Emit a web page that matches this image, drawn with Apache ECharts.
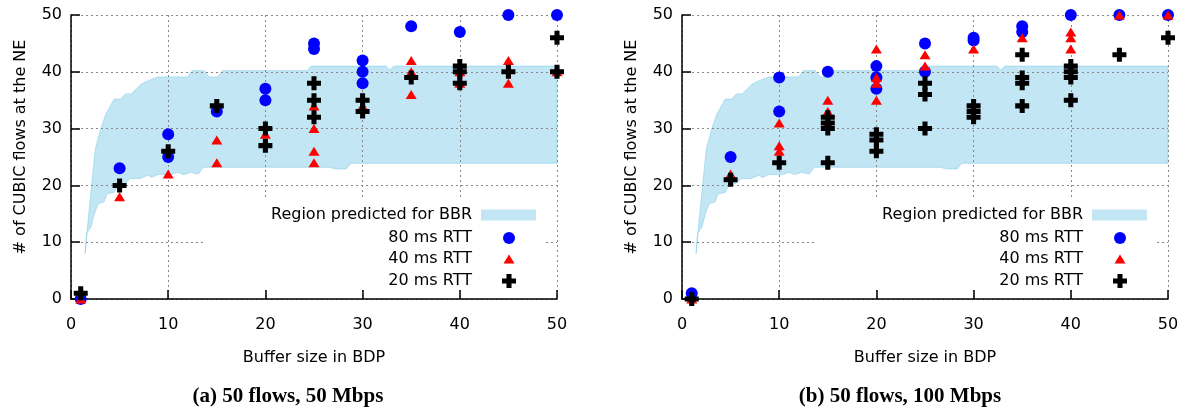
<!DOCTYPE html>
<html>
<head>
<meta charset="utf-8">
<script src="https://cdn.jsdelivr.net/npm/echarts@6/dist/echarts.min.js"></script>
<style>
  html, body { margin: 0; padding: 0; background: #fff; }
  #chart { width: 1187px; height: 414px; }
</style>
</head>
<body>
<div id="chart"></div>
<script>
// ---- data ----
const xTicks = [0, 10, 20, 30, 40, 50]
const yTicks = [0, 10, 20, 30, 40, 50]
const captions = ['(a) 50 flows, 50 Mbps', '(b) 50 flows, 100 Mbps']
const legendNames = ['Region predicted for BBR', '80 ms RTT', '40 ms RTT', '20 ms RTT']

// predicted region (same shape in both panels)
const bandUpper = [[1.45, 8], [1.7, 12.7], [1.9, 16.2], [2.1, 19.7], [2.35, 23.8], [2.5, 26.4], [3.1, 30.2],
  [3.6, 32.6], [4.45, 35.2], [5.1, 35.2], [5.6, 36.1], [6.2, 36.1], [7.2, 37.8], [7.9, 38.4], [8.9, 39.1],
  [12, 39.1], [12.5, 40.2], [13.7, 40.2], [14.2, 39.1], [15.1, 39.1], [15.6, 40.2], [24.3, 40.2],
  [24.7, 41], [32.4, 41], [32.8, 40.3], [33.2, 41], [50, 41]]
const bandLower = [[1.45, 8], [1.6, 11.5], [2.05, 12.7], [2.4, 15], [2.8, 16.8], [3.4, 17.1], [3.7, 18.5],
  [4.45, 18.8], [4.8, 20], [5.5, 20.3], [6.1, 21.2], [7.1, 21.2], [7.9, 21.8], [8.3, 21.4], [8.9, 21.9],
  [10.3, 21.9], [11, 22.3], [11.6, 21.9], [12.3, 22.3], [13.1, 22], [13.6, 23.2], [26.5, 23.2],
  [27.3, 22.9], [28.3, 22.9], [28.8, 23.9], [50, 23.9]]

// panel (a) 50 Mbps
const rtt80a = [[1, 0], [5, 23], [10, 29], [10, 25], [15, 33], [20, 37], [20, 35], [25, 45], [25, 44],
  [30, 42], [30, 40], [30, 38], [35, 48], [40, 47], [45, 50], [50, 50]]
const rtt40a = [[1, 0], [5, 18], [10, 22], [15, 28], [15, 24], [20, 29], [25, 34], [25, 30], [25, 26],
  [25, 24], [30, 34], [35, 42], [35, 40], [35, 36], [40, 40], [40, 38], [45, 42], [45, 38], [50, 40]]
const rtt20a = [[1, 1], [5, 20], [10, 26], [15, 34], [20, 30], [20, 27], [25, 38], [25, 35], [25, 32],
  [30, 35], [30, 33], [35, 39], [40, 41], [40, 40], [40, 38], [45, 40], [50, 46], [50, 40]]

// panel (b) 100 Mbps
const rtt80b = [[1, 1], [5, 25], [10, 39], [10, 33], [15, 40], [20, 41], [20, 39], [20, 37], [25, 45],
  [25, 40], [30, 46], [30, 45.5], [35, 48], [35, 47], [40, 50], [45, 50], [50, 50]]
const rtt40b = [[1, 0], [5, 22], [10, 31], [10, 27], [10, 26], [15, 35], [15, 33], [15, 31], [20, 44],
  [20, 39], [20, 38], [20, 35], [25, 43], [25, 41], [30, 44], [35, 46], [40, 47], [40, 46], [40, 44],
  [45, 50], [50, 50]]
const rtt20b = [[1, 0], [5, 21], [10, 24], [15, 32], [15, 31], [15, 30], [15, 24], [20, 29], [20, 28],
  [20, 26], [25, 38], [25, 36], [25, 30], [30, 34], [30, 33], [30, 32], [35, 43], [35, 39], [35, 38],
  [35, 34], [40, 41], [40, 40], [40, 39], [40, 35], [45, 43], [50, 46]]

const panels = [
  { blue: rtt80a, red: rtt40a, black: rtt20a },
  { blue: rtt80b, red: rtt40b, black: rtt20b }
]

// ---- styling ----
const font = 'DejaVu Sans'
const bandFill = 'rgba(135,206,235,0.5)'
const plusPath = 'path://M3.2,0 H6.8 V3.2 H10 V6.8 H6.8 V10 H3.2 V6.8 H0 V3.2 H3.2 Z'
const gridBoxes = [
  { left: 71, right: 630, top: 15, bottom: 115 },
  { left: 682, right: 19, top: 15, bottom: 115 }
]
const panelShift = 611

const chart = echarts.init(document.getElementById('chart'))

const xAxes = gridBoxes.map((g, i) => ({
  type: 'value', gridIndex: i, min: xTicks[0], max: xTicks[xTicks.length - 1], interval: 10,
  name: 'Buffer size in BDP', nameLocation: 'middle', nameGap: 51,
  nameTextStyle: { fontFamily: font, fontSize: 16, color: '#000' },
  axisLine: { lineStyle: { color: '#000', width: 1.5 } },
  axisTick: { inside: true, length: 9, lineStyle: { color: '#000', width: 1.5 } },
  axisLabel: { fontFamily: font, fontSize: 16, color: '#000', margin: 18 },
  splitLine: { show: true, lineStyle: { color: '#888', type: [2, 3], width: 1 } }
}))
const yAxes = gridBoxes.map((g, i) => ({
  type: 'value', gridIndex: i, min: yTicks[0], max: yTicks[yTicks.length - 1], interval: 10,
  name: '# of CUBIC flows at the NE', nameLocation: 'middle', nameGap: 42,
  nameTextStyle: { fontFamily: font, fontSize: 16, color: '#000', padding: [0, 0, 0, 20] },
  axisLine: { show: true, lineStyle: { color: '#000', width: 1.5 } },
  axisTick: { show: true, inside: true, length: 9, lineStyle: { color: '#000', width: 1.5 } },
  axisLabel: { fontFamily: font, fontSize: 16, color: '#000', margin: 9 },
  splitLine: { show: true, lineStyle: { color: '#888', type: [2, 3], width: 1 } }
}))

const series = []
panels.forEach((p, i) => {
  series.push({
    name: legendNames[0], type: 'custom', xAxisIndex: i, yAxisIndex: i, z: -1,
    itemStyle: { color: bandFill },
    data: [[0, 0]],
    renderItem: (params, api) => {
      const pts = bandUpper.map(d => api.coord(d))
        .concat(bandLower.slice().reverse().map(d => api.coord(d)))
      return { type: 'polygon', shape: { points: pts },
        style: { fill: bandFill, stroke: 'rgba(135,206,235,0.6)', lineWidth: 1 } }
    }
  })
  series.push({ name: legendNames[1], type: 'scatter', xAxisIndex: i, yAxisIndex: i, clip: false,
    symbol: 'circle', symbolSize: 12, itemStyle: { color: '#0000ff', opacity: 1 }, data: p.blue })
  series.push({ name: legendNames[2], type: 'scatter', xAxisIndex: i, yAxisIndex: i, clip: false,
    symbol: 'triangle', symbolSize: [11, 9], itemStyle: { color: '#ff0000', opacity: 1 }, data: p.red })
  series.push({ name: legendNames[3], type: 'scatter', xAxisIndex: i, yAxisIndex: i, clip: false,
    symbol: plusPath, symbolSize: 14, itemStyle: { color: '#000', opacity: 1 }, data: p.black })
})

// legend: text on the left, symbol on the right, one row per component
const legendRows = [216, 239, 260, 282]
const iconSizes = [[55, 11], [12, 12], [11, 9], [14, 14]]
const textEnd = 472
const iconCenter = 509
const legends = []
const graphics = []
gridBoxes.forEach((g, i) => {
  const dx = i * panelShift
  legendNames.forEach((name, k) => {
    const isBand = k === 0
    const [w, h] = iconSizes[k]
    const iconRight = isBand ? 536 : iconCenter + w / 2
    const gap = iconRight - w - textEnd - 5
    legends.push({
      orient: 'vertical', align: 'right', padding: 0, selectedMode: false,
      right: 1187 - (iconRight + dx), top: legendRows[k] - 9,
      itemWidth: w, itemHeight: h,
      textStyle: { fontFamily: font, fontSize: 16, color: '#000', padding: [0, gap, 0, 0] },
      data: [isBand ? { name, icon: 'rect', itemStyle: { color: bandFill } } : name]
    })
  })
  // opaque key box hides the grid behind it
  graphics.push({ type: 'rect', z: 1, shape: { x: 203 + dx, y: 200, width: 343, height: 90 },
    style: { fill: '#fff' } })
})

chart.setOption({
  animation: false,
  title: captions.map((t, i) => ({
    text: t, left: [288, 900][i], top: 386, textAlign: 'center', padding: 0,
    textStyle: { fontFamily: 'Liberation Serif', fontWeight: 'bold', fontSize: 21, color: '#000' }
  })),
  grid: gridBoxes,
  xAxis: xAxes,
  yAxis: yAxes,
  legend: legends,
  graphic: graphics,
  series: series
})
</script>
</body>
</html>
